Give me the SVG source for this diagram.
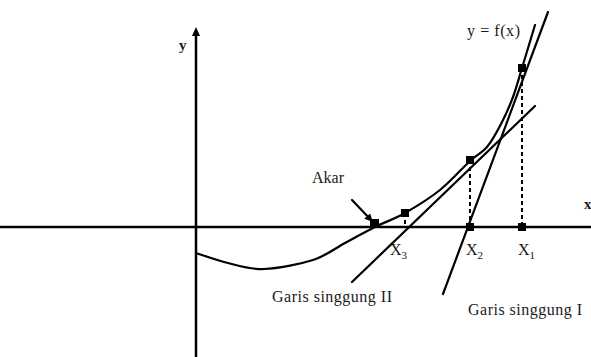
<svg xmlns="http://www.w3.org/2000/svg" width="591" height="357" viewBox="0 0 591 357">
<style>
.ax{stroke:#000;stroke-width:2.5;fill:none}
.ln{stroke:#000;stroke-width:2.2;fill:none;stroke-linecap:round}
.ds{stroke:#000;stroke-width:2;fill:none;stroke-dasharray:4 3}
.mk{fill:#000}
text{font-family:"Liberation Serif","Times New Roman",serif;font-size:16px;fill:#1a1a1a}
.sub{font-size:11px}
.b{font-weight:bold;font-size:15px}
</style>
<defs>
<marker id="ah" markerWidth="8" markerHeight="8" refX="7" refY="4" orient="auto" markerUnits="userSpaceOnUse"><path d="M0,0 L8,4 L0,8 z" fill="#000"/></marker>
</defs>
<g id="axes">
<line class="ax" x1="0" y1="227" x2="591" y2="227"/>
<line class="ax" x1="196" y1="34" x2="196" y2="357"/>
<polygon points="196,27 192,36 200,36" fill="#000"/>
<text class="b" x="179" y="50">y</text>
<text class="b" x="584" y="209">x</text>
</g>
<g id="curve">
<path class="ln" d="M196,253 C201.3,254.7 216.7,260.3 228,263 C239.3,265.7 249.8,269.5 264,269 C278.2,268.5 299.5,264.3 313,260 C326.5,255.7 334.7,248.5 345,243 C355.3,237.5 365,232 375,227 C385,222 394.2,219.2 405,213 C415.8,206.8 429.2,198.7 440,190 C450.8,181.3 462.2,168.2 470,161 C477.8,153.8 481.8,153.2 487,147 C492.2,140.8 496.7,132.3 501,124 C505.3,115.7 509.5,106.3 513,97 C516.5,87.7 518.3,80 522,68 C525.7,56 532.8,32.2 535,25"/>
<text x="467" y="36" textLength="53">y = f(x)</text>
</g>
<g id="connectors">
<line class="ln" x1="352" y1="282" x2="535" y2="106"/>
<line class="ln" x1="443" y1="294" x2="548" y2="12"/>
<line class="ds" x1="405" y1="213" x2="405" y2="227"/>
<line class="ds" x1="470" y1="160" x2="470" y2="227"/>
<line class="ds" x1="522" y1="68" x2="522" y2="227"/>
<line class="ln" x1="352" y1="200" x2="372" y2="221" marker-end="url(#ah)"/>
</g>
<g id="points">
<rect class="mk" x="370" y="219" width="9" height="9"/>
<rect class="mk" x="401" y="209" width="8" height="8"/>
<rect class="mk" x="466" y="156" width="8" height="8"/>
<rect class="mk" x="518" y="64" width="8" height="8"/>
<rect class="mk" x="466" y="223" width="8" height="8"/>
<rect class="mk" x="518" y="223" width="8" height="8"/>
</g>
<g id="labels">
<text x="312" y="183">Akar</text>
<text x="390" y="255">X<tspan class="sub" dy="4">3</tspan></text>
<text x="466" y="255">X<tspan class="sub" dy="4">2</tspan></text>
<text x="518" y="255">X<tspan class="sub" dy="4">1</tspan></text>
<text x="272" y="302" textLength="120">Garis singgung II</text>
<text x="468" y="315" textLength="114">Garis singgung I</text>
</g>
</svg>
